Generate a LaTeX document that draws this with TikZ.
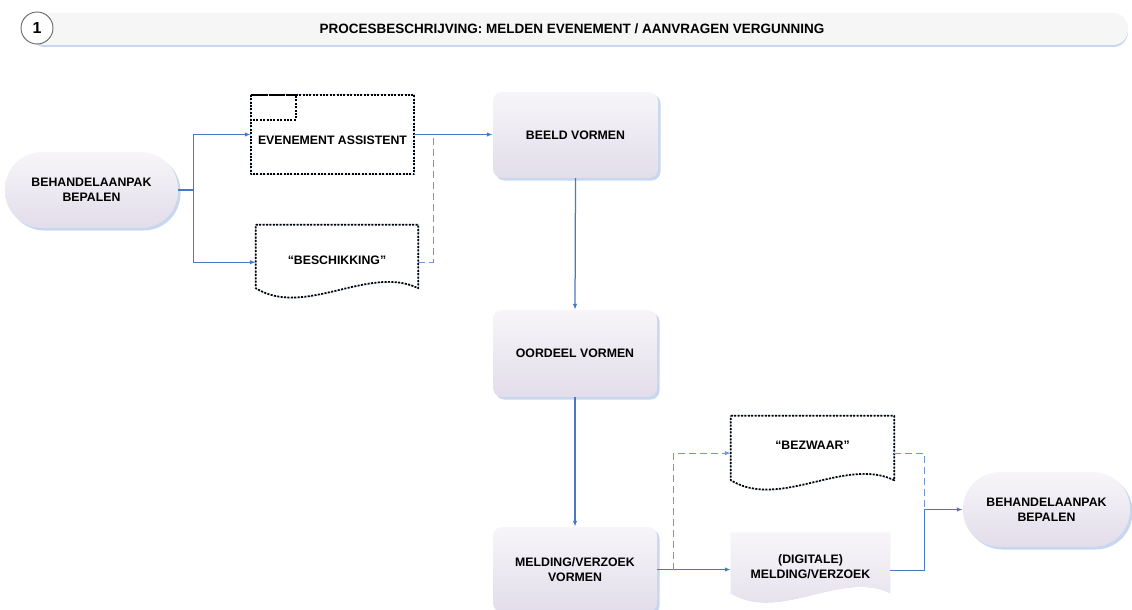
\documentclass[tikz,border=0pt]{standalone}
\usepackage{fontspec}
\setmainfont{Liberation Sans}
\usetikzlibrary{arrows.meta,calc,shadows}
\definecolor{flow}{HTML}{4A78C4}
\definecolor{flowlight}{HTML}{6F97D6}
\definecolor{boxtop}{HTML}{F7F5F9}
\definecolor{boxbot}{HTML}{E2DDEA}
\definecolor{shadowblue}{HTML}{C6D7EF}
\definecolor{bannerfill}{HTML}{F6F6F7}
\begin{document}
\begin{tikzpicture}[x=1pt,y=-1pt,
  font=\fontsize{12.3}{15}\selectfont\bfseries,
  bshadow/.style={drop shadow={shadow xshift=2.5pt,shadow yshift=-2.5pt,fill=shadowblue,opacity=1}},
  procbox/.style={rectangle,rounded corners=9pt,top color=boxtop,bottom color=boxbot,
    draw=none,align=center,inner sep=0pt,bshadow},
  stadium/.style={rectangle,rounded corners=37pt,top color=boxtop,bottom color=boxbot,
    draw=none,align=center,inner sep=0pt,bshadow},
  holder/.style={rectangle,draw=none,align=center,inner sep=0pt},
  dotline/.style={draw=black,line width=1.7pt,dash pattern={on 2pt off 1.4pt},line join=round},
  dotshadow/.style={draw=shadowblue,line width=2pt,shift={(1.6,1.6)}},
  flowline/.style={draw=flow,line width=1.25pt},
  flowarrow/.style={flowline,-{Latex[length=6pt,width=4.5pt]}},
  flowdash/.style={draw=flowlight,line width=1.25pt,dash pattern={on 7pt off 4pt}},
]
\useasboundingbox (0,0) rectangle (1132,610);

% header
\node[rectangle,rounded corners=15pt,fill=bannerfill,minimum width=1098pt,minimum height=32pt,inner sep=0pt,
  drop shadow={shadow xshift=0pt,shadow yshift=-2pt,fill=shadowblue,opacity=1}] (banner) at (579,29) {};
\node[circle,draw=black!60,line width=0.9pt,fill=white,minimum size=32pt,inner sep=0pt,
  font=\fontsize{16}{16}\selectfont\bfseries] (num) at (37,28) {1};
\node[font=\fontsize{13.5}{16}\selectfont\bfseries] (title) at (572,29)
  {PROCESBESCHRIJVING: MELDEN EVENEMENT / AANVRAGEN VERGUNNING};

% main boxes
\node[stadium,minimum width=173pt,minimum height=76pt] (lstad) at (91.5,190) {BEHANDELAANPAK\\BEPALEN};
\node[procbox,minimum width=165pt,minimum height=86pt] (beeld) at (575.5,135) {BEELD VORMEN};
\node[procbox,minimum width=164pt,minimum height=87pt] (oordeel) at (575,353.5) {OORDEEL VORMEN};
\node[procbox,minimum width=164pt,minimum height=85pt] (melding) at (575,569.5) {MELDING/VERZOEK\\VORMEN};
\node[stadium,minimum width=167pt,minimum height=75pt] (rstad) at (1046.5,509.5) {BEHANDELAANPAK\\BEPALEN};

% evenement assistent (dotted box with tab)
\node[holder,minimum width=163pt,minimum height=79pt] (ea) at (332.5,134.5) {};
\draw[dotshadow] (ea.north west) rectangle (ea.south east);
\fill[white] (ea.north west) rectangle (ea.south east);
\draw[dotline] (ea.north west) rectangle (ea.south east);
\draw[dotline] (ea.north west) rectangle ($(ea.north west)+(45,25)$);
\node[holder] (eatext) at (ea.center) [yshift=-6pt] {EVENEMENT ASSISTENT};

% document shapes
\newcommand\docpath[1]{(#1.north west) -- (#1.north east) -- (#1.south east)
  .. controls ($(#1.south east)!0.3!(#1.south west)+(0,-24)$) and ($(#1.south east)!0.7!(#1.south west)+(0,30)$) .. (#1.south west) -- cycle}

\node[holder,minimum width=162pt,minimum height=63pt] (bes) at (337,256.5) {};
\draw[dotshadow] \docpath{bes};
\fill[white] \docpath{bes};
\draw[dotline] \docpath{bes};
\node[holder] (bestext) at (bes.center) [yshift=-4pt] {“BESCHIKKING”};

\node[holder,minimum width=163pt,minimum height=64pt] (bez) at (812.5,448) {};
\draw[dotshadow] \docpath{bez};
\fill[white] \docpath{bez};
\draw[dotline] \docpath{bez};
\node[holder] (beztext) at (bez.center) [yshift=3pt] {“BEZWAAR”};

\node[holder,minimum width=159pt,minimum height=60pt] (dig) at (810.5,563) {};
\fill[shadowblue] [shift={(2.5,2.5)}] \docpath{dig};
\shade[top color=boxtop,bottom color=boxbot] \docpath{dig};
\node[holder] (digtext) at (dig.center) [yshift=-4pt] {(DIGITALE)\\MELDING/VERZOEK};

% connectors
\coordinate (j1) at ($(lstad.east)+(15,0)$);
\draw[flowline] (lstad.east) -- (j1);
\draw[flowarrow] (j1) |- (ea.west);
\draw[flowarrow] (j1) |- ($(bes.north west)!0.59!(bes.south west)$);
\draw[flowarrow] (ea.east) -- (ea.east -| beeld.west);
\coordinate (j2) at ($(ea.east)+(19,0)$);
\draw[flowdash] ($(bes.north east)!0.59!(bes.south east)$) -| (j2);
\draw[flowarrow] (beeld.south) -- (oordeel.north);
\draw[flowarrow] (oordeel.south) -- (melding.north);
\draw[flowarrow] (melding.east) -- (melding.east -| dig.west);
\coordinate (j3) at ($(melding.east)+(16,0)$);
\draw[flowdash,-{Latex[length=6pt,width=4.5pt]}] (j3) |- ($(bez.north west)!0.58!(bez.south west)$);
\coordinate (j4) at ($(rstad.west)+(-38,0)$);
\draw[flowarrow] ($(dig.north east)!0.62!(dig.south east)$) -| (j4) -- (rstad.west);
\draw[flowdash] ($(bez.north east)!0.58!(bez.south east)$) -| (j4);
\end{tikzpicture}
\end{document}
